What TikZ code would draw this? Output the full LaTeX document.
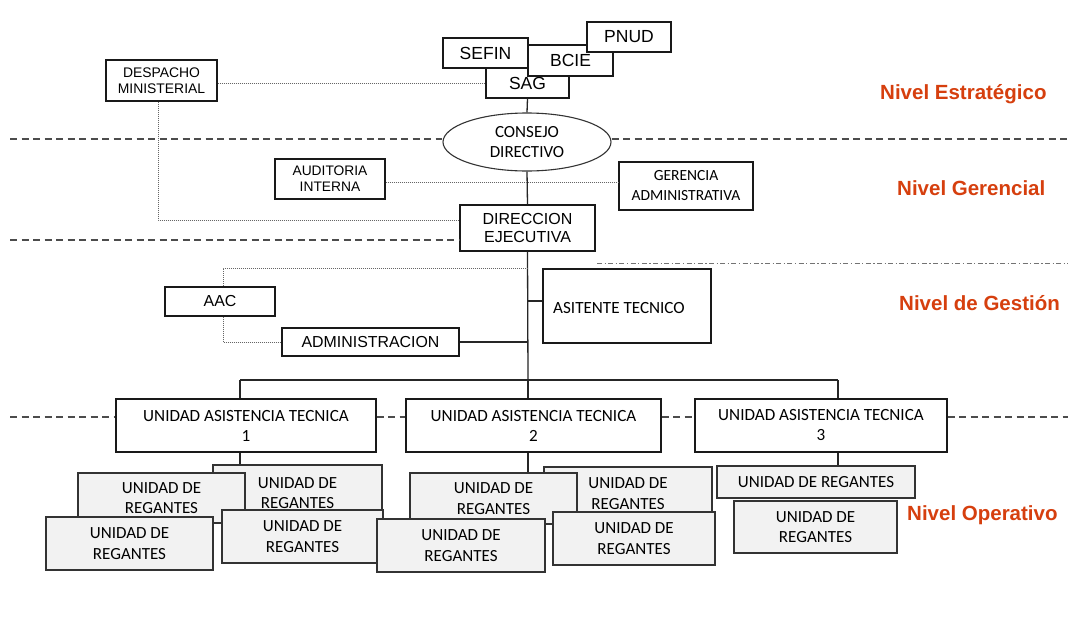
\documentclass[tikz,border=0pt]{standalone}
\usepackage{fontspec}
\setmainfont{Liberation Sans}
\newfontfamily\calib{Carlito}
\usetikzlibrary{shapes.geometric}
\definecolor{lvl}{RGB}{214,63,14}
\definecolor{regfill}{RGB}{242,242,242}
\begin{document}
\begin{tikzpicture}[x=1pt,y=-1pt,
 box/.style={draw=black!90, fill=white, line width=1.2pt, inner sep=0pt, align=center},
 reg/.style={draw=black!80, fill=regfill, line width=1.3pt, inner sep=0pt, align=center, font=\calib\fontsize{17}{20.5}\selectfont},
 conn/.style={line width=1.3pt, draw=black!85},
 dotl/.style={line width=1pt, draw=black!60, dash pattern=on 1pt off 1pt},
 dashl/.style={line width=1.3pt, draw=black!70, dash pattern=on 7pt off 4.5pt},
 dashdotl/.style={line width=1pt, draw=black!55, dash pattern=on 5pt off 2.5pt on 1.2pt off 2.5pt},
 lvltxt/.style={text=lvl, font=\bfseries\fontsize{20.5}{24}\selectfont, anchor=base west, inner sep=0pt}
]
\fill[white] (0,0) rectangle (1068,640);
\useasboundingbox (0,0) rectangle (1068,640);

% strategic level boxes
\node[box, minimum width=83pt, minimum height=30pt, font=\fontsize{17.5}{20}\selectfont] (sag) at (527.5,83) {SAG};
\node[box, minimum width=85pt, minimum height=31pt, font=\fontsize{17.5}{20}\selectfont] (bcie) at (570.5,60.5) {BCIE};
\node[box, minimum width=85pt, minimum height=30pt, font=\fontsize{17.5}{20}\selectfont] (sefin) at (485.5,53) {SEFIN};
\node[box, minimum width=84pt, minimum height=30pt, font=\fontsize{17.5}{20}\selectfont] (pnud) at (629,37) {PNUD};
\node[box, minimum width=111pt, minimum height=41pt, font=\fontsize{13.9}{15.5}\selectfont] (desp) at (161.5,80.5) {DESPACHO\\MINISTERIAL};

\node[ellipse, draw=black!80, fill=white, line width=1.1pt, inner sep=0pt, minimum width=168pt, minimum height=58pt, align=center, font=\calib\fontsize{17}{20}\selectfont] (cons) at (527,142) {CONSEJO\\DIRECTIVO};

% managerial
\node[box, minimum width=110pt, minimum height=40pt, font=\fontsize{13.8}{16}\selectfont] (aud) at (330,179) {AUDITORIA\\INTERNA};
\node[box, minimum width=134pt, minimum height=48pt, font=\calib\fontsize{15.5}{20}\selectfont] (ger) at (686,186) {GERENCIA\\ADMINISTRATIVA};
\node[box, minimum width=135pt, minimum height=46pt, font=\fontsize{16}{18}\selectfont] (dir) at (527.5,228) {DIRECCION\\EJECUTIVA};

% management
\node[box, minimum width=110pt, minimum height=29pt, font=\fontsize{15.9}{18}\selectfont] (aac) at (220,301.5) {AAC};
\node[box, minimum width=177pt, minimum height=28pt, font=\fontsize{15.9}{18}\selectfont] (adm) at (370.5,342) {ADMINISTRACION};
\node[box, minimum width=168pt, minimum height=74pt] (ast) at (627,306) {};
\node[anchor=west, inner sep=0pt, font=\calib\fontsize{17.1}{20}\selectfont] (astt) at (553,308) {ASITENTE TECNICO};

% operative units
\node[box, minimum width=260pt, minimum height=53pt, font=\calib\fontsize{17.1}{20}\selectfont] (u1) at (246,425.5) {UNIDAD ASISTENCIA TECNICA\\1};
\node[box, minimum width=255pt, minimum height=53pt, font=\calib\fontsize{17.1}{20}\selectfont] (u2) at (533.5,425.5) {UNIDAD ASISTENCIA TECNICA\\2};
\node[box, minimum width=252pt, minimum height=53pt, font=\calib\fontsize{17.1}{20}\selectfont] (u3) at (821,425.5) {UNIDAD ASISTENCIA TECNICA\\3};

% regantes group 1
\node[reg, minimum width=169pt, minimum height=56pt] (rb) at (297.5,493) {UNIDAD DE\\REGANTES};
\node[reg, minimum width=167pt, minimum height=50pt] (ra) at (161.5,498) {UNIDAD DE\\REGANTES};
\node[reg, minimum width=167pt, minimum height=53pt] (rc) at (129.5,543.5) {UNIDAD DE\\REGANTES};
\node[reg, minimum width=161pt, minimum height=53pt] (rd) at (302.5,536.5) {UNIDAD DE\\REGANTES};
% group 2
\node[reg, minimum width=168pt, minimum height=53pt] (rf) at (628,493.5) {UNIDAD DE\\REGANTES};
\node[reg, minimum width=167pt, minimum height=51pt] (re) at (493.5,498.5) {UNIDAD DE\\REGANTES};
\node[reg, minimum width=168pt, minimum height=53pt] (rg) at (461,545.5) {UNIDAD DE\\REGANTES};
\node[reg, minimum width=162pt, minimum height=53pt] (rh) at (634,538.5) {UNIDAD DE\\REGANTES};
% group 3
\node[reg, minimum width=198pt, minimum height=32pt] (ri) at (816,482) {UNIDAD DE REGANTES};
\node[reg, minimum width=163pt, minimum height=52pt] (rj) at (815.5,527) {UNIDAD DE\\REGANTES};

% coordinates
\coordinate (bl) at (240,380);
\coordinate (bm) at (528,380);
\coordinate (br) at (838,380);
\coordinate (dv) at (158,220);
\coordinate (ay) at (0,182);
\coordinate (tk1) at (528,268);
\coordinate (ac) at (223,268);
\coordinate (ad) at (223,342);
\coordinate (tk2) at (528,342);
\coordinate (tk3) at (528,301);
\coordinate (L1) at (10,139);
\coordinate (R1) at (1068,139);
\coordinate (L2) at (10,240);
\coordinate (D1) at (597,263);
\coordinate (D2) at (1068,263);
\coordinate (L4) at (10,417);
\coordinate (R4) at (1068,417);

% solid connectors
\draw[conn] (sag.south) -- (cons.north);
\draw[conn] (cons.south) -- (dir.north);
\draw[conn] (dir.south) -- (bm);
\draw[conn] (bl) -- (br);
\draw[conn] (bl) -- (bl |- u1.north);
\draw[conn] (bm) -- (bm |- u2.north);
\draw[conn] (br) -- (br |- u3.north);
\draw[conn] (bl |- u1.south) -- (bl |- rb.north);
\draw[conn] (bm |- u2.south) -- (bm |- re.north);
\draw[conn] (br |- u3.south) -- (br |- ri.north);
\draw[conn] (adm.east) -- (tk2);
\draw[conn] (tk3) -- (tk3 -| ast.west);

% dotted connectors
\draw[dotl] (sag.west -| desp.east) -- (sag.west);
\draw[dotl] (desp.south -| dv) -- (dv) -- (dv -| dir.west);
\draw[dotl] (aud.east |- ay) -- (ger.west |- ay);
\draw[dotl] (tk1) -- (ac) -- (aac.north -| ac);
\draw[dotl] (aac.south -| ad) -- (ad) -- (adm.west |- ad);

% level separators
\draw[dashl] (L1) -- (L1 -| cons.west);
\draw[dashl] (R1 -| cons.east) -- (R1);
\draw[dashl] (L2) -- (L2 -| dir.west);
\draw[dashdotl] (D1) -- (D2);
\draw[dashl] (L4) -- (L4 -| u1.west);
\draw[dashl] (u1.east |- L4) -- (u2.west |- L4);
\draw[dashl] (u2.east |- L4) -- (u3.west |- L4);
\draw[dashl] (u3.east |- L4) -- (R4);

% level labels
\node[lvltxt] (n1) at (880,99) {Nivel Estratégico};
\node[lvltxt] (n2) at (897,195.5) {Nivel Gerencial};
\node[lvltxt] (n3) at (899,310.5) {Nivel de Gestión};
\node[lvltxt] (n4) at (907,520.5) {Nivel Operativo};
\end{tikzpicture}
\end{document}
